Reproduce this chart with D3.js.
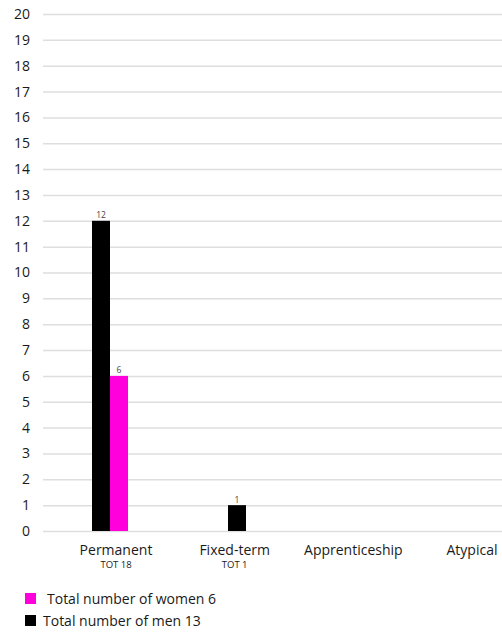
<!DOCTYPE html>
<html>
<head>
<meta charset="utf-8">
<script src="https://cdn.jsdelivr.net/npm/d3@7/dist/d3.min.js"></script>
<style>
  html, body { margin: 0; padding: 0; background: #fff; }
  svg { display: block; font-family: "Open Sans", "Noto Sans", sans-serif; }
</style>
</head>
<body>
<svg id="chart" width="502" height="632"></svg>
<script>
// Contract types and headcounts
const categories = ["Permanent", "Fixed-term", "Apprenticeship", "Atypical"];
const totals = ["TOT 18", "TOT 1", "", ""];
const men = [12, 1, 0, 0];
const women = [6, 0, 0, 0];
const yTicks = d3.range(0, 21);
const legendLabels = ["Total number of women 6", "Total number of men 13"];

const colors = { men: "#000000", women: "#ff00dc" };

const svg = d3.select("#chart");
const W = 502;

const y = d3.scaleLinear().domain([0, 20]).range([531, 14]);
const x = d3.scaleBand().domain(categories).range([42, 586]);
const sub = d3.scaleBand().domain(["men", "women"]).range([0, 36]);
const xLabel = d3.scalePoint().domain(categories).range([116, 472]);

// Horizontal grid lines with value labels on the left
const yAxis = d3.axisLeft(y).tickValues(yTicks).tickSize(-(W - 43)).tickPadding(13);
const gy = svg.append("g").attr("transform", "translate(43,0)").call(yAxis);
gy.select(".domain").remove();
gy.selectAll(".tick line").attr("stroke", "#dedede").attr("stroke-width", 1.5);
gy.selectAll(".tick text").attr("fill", "#1a1a1a").attr("font-size", 14)
  .attr("font-family", "'Open Sans', sans-serif");

// Bars
const rows = categories.map((c, i) => ({ c, men: men[i], women: women[i] }));
const groups = svg.append("g").selectAll("g").data(rows).join("g")
  .attr("transform", d => `translate(${x(d.c) + (x.bandwidth() - 36) / 2},0)`);

["men", "women"].forEach(k => {
  groups.filter(d => d[k] > 0).append("rect")
    .attr("x", sub(k))
    .attr("width", sub.bandwidth())
    .attr("y", d => y(d[k]))
    .attr("height", d => y(0) - y(d[k]))
    .attr("fill", colors[k]);
  groups.filter(d => d[k] > 0).append("text")
    .attr("x", sub(k) + sub.bandwidth() / 2)
    .attr("y", d => y(d[k]) - 2.5)
    .attr("text-anchor", "middle")
    .attr("font-size", 8.5)
    .attr("fill", "#444")
    .text(d => d[k]);
});

// Category labels and totals
const cat = svg.append("g").selectAll("g").data(categories).join("g")
  .attr("transform", c => `translate(${xLabel(c)},0)`);
cat.append("text")
  .attr("y", 555)
  .attr("text-anchor", "middle")
  .attr("font-size", 14)
  .attr("fill", "#1a1a1a")
  .text(c => c);
cat.append("text")
  .attr("y", 568)
  .attr("text-anchor", "middle")
  .attr("font-size", 9.5)
  .attr("fill", "#1a1a1a")
  .text((c, i) => totals[i]);

// Legend
const legend = svg.append("g").selectAll("g").data(legendLabels).join("g")
  .attr("transform", (d, i) => `translate(25,${593 + i * 22})`);
legend.append("rect")
  .attr("width", 11).attr("height", 11)
  .attr("fill", (d, i) => i === 0 ? colors.women : colors.men);
legend.append("text")
  .attr("x", (d, i) => i === 0 ? 22 : 18)
  .attr("y", 11)
  .attr("font-size", 14)
  .attr("fill", "#1a1a1a")
  .text(d => d);
</script>
</body>
</html>
